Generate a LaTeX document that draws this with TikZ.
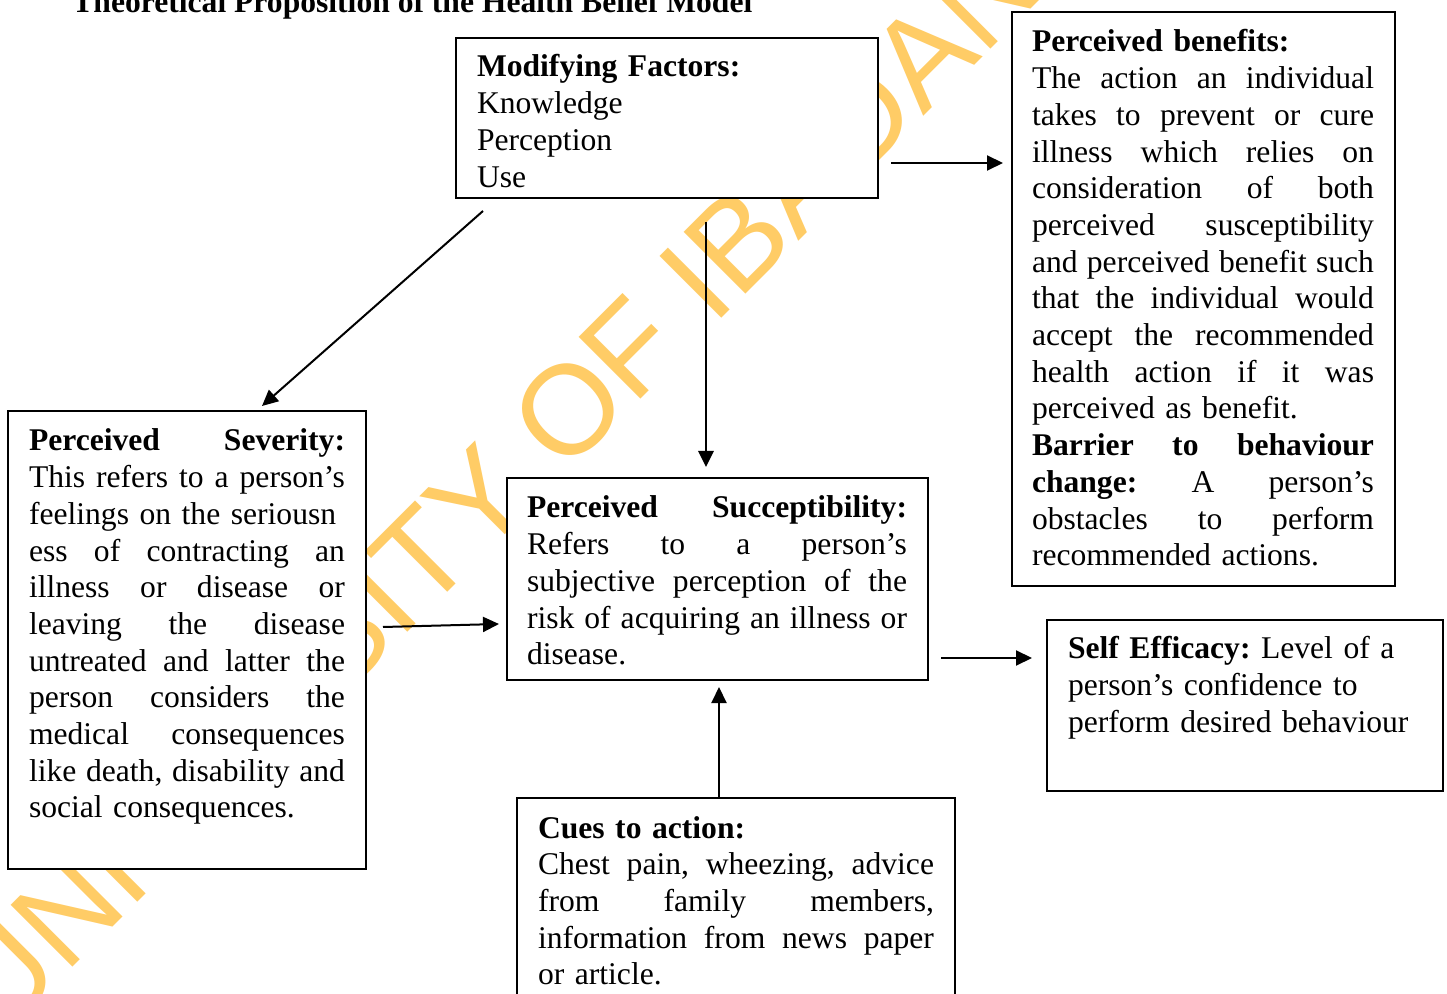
\documentclass[tikz,border=0pt]{standalone}
\usepackage{fontspec}
\setmainfont{Liberation Serif}
\newfontfamily\wmfont{Liberation Sans}
\usetikzlibrary{arrows.meta}
\definecolor{wm}{RGB}{255,204,102}
\setlength{\parindent}{0pt}
\frenchspacing
\newlength\jw
\newcommand\fs{\fontsize{15.8pt}{18.35pt}\selectfont}
\newcommand\J[1]{\leavevmode\hbox to \jw{\spaceskip=0.25em plus 1fil\relax\xspaceskip=0.25em plus 1fil\relax #1}}
\newcommand\R{\rule{0pt}{12pt}}
\begin{document}
\begin{tikzpicture}[x=0.5pt,y=-0.5pt,
  frame/.style={draw, line width=1pt, fill=white, anchor=north west, inner sep=0pt, outer sep=0pt},
  txt/.style={anchor=north west, inner sep=0pt, outer sep=0pt, align=left, font=\fs},
  arr/.style={line width=1pt, -{Triangle[length=8pt,width=7.5pt]}}]
\clip (0,0) rectangle (1447,994);
\fill[white] (0,0) rectangle (1447,994);
% watermark
\node[anchor=base west, inner sep=0pt, rotate=45, text=wm, font=\wmfont\fontsize{63.5pt}{70pt}\selectfont] (wmark) at (0,1040) {UNIVERSITY OF IBADAN};
% title
\node[anchor=base west, inner sep=0pt, font=\fs\bfseries] (title) at (72,13) {Theoretical Proposition of the Health Belief Model};
% frames
\node[frame, minimum width=211pt, minimum height=80pt] (mf) at (456,38) {};
\node[frame, minimum width=191.5pt, minimum height=287pt] (ben) at (1012,12) {};
\node[frame, minimum width=179pt, minimum height=229pt] (sev) at (8,411) {};
\node[frame, minimum width=210.5pt, minimum height=101pt] (sus) at (507,478) {};
\node[frame, minimum width=198pt, minimum height=85.5pt] (se) at (1047,620) {};
\node[frame, minimum width=219pt, minimum height=110pt] (cue) at (517,798) {};
% texts
\node[txt, text width=200pt] (mft) at (477,53) {\R\textbf{Modifying Factors:}\\Knowledge\\Perception\\Use};
\node[txt, text width=171pt] (bent) at (1032,28) {\setlength\jw{171pt}\R\textbf{Perceived benefits:}\\
\J{The action an individual}\\
\J{takes to prevent or cure}\\
\J{illness which relies on}\\
\J{consideration of both}\\
\J{perceived susceptibility}\\
\J{and perceived benefit such}\\
\J{that the individual would}\\
\J{accept the recommended}\\
\J{health action if it was}\\
perceived as benefit.\\
\J{\textbf{Barrier to behaviour}}\\
\J{\textbf{change:} A person’s}\\
\J{obstacles to perform}\\
recommended actions.};
\node[txt, text width=158pt] (sevt) at (29,427) {\setlength\jw{158pt}\R\J{\textbf{Perceived Severity:}}\\
\J{This refers to a person’s}\\
feelings on the seriousn\\
\J{ess of contracting an}\\
\J{illness or disease or}\\
\J{leaving the disease}\\
\J{untreated and latter the}\\
\J{person considers the}\\
\J{medical consequences}\\
\J{like death, disability and}\\
social consequences.};
\node[txt, text width=190pt] (sust) at (527,494) {\setlength\jw{190pt}\R\J{\textbf{Perceived Succeptibility:}}\\
\J{Refers to a person’s}\\
\J{subjective perception of the}\\
\J{risk of acquiring an illness or}\\
disease.};
\node[txt, text width=185pt] (set) at (1068,635) {\R\textbf{Self Efficacy:} Level of a\\
person’s confidence to\\
perform desired behaviour};
\node[txt, text width=198pt] (cuet) at (538,814) {\setlength\jw{198pt}\R\textbf{Cues to action:}\\
\J{Chest pain, wheezing, advice}\\
\J{from family members,}\\
\J{information from news paper}\\
or article.};
% connector ends
\coordinate (a1) at (891,163); \coordinate (b1) at (1003,163);
\coordinate (a2) at (483,211); \coordinate (b2) at (262,406);
\coordinate (a3) at (706,222); \coordinate (b3) at (706,467);
\coordinate (a4) at (383,627); \coordinate (b4) at (499,624);
\coordinate (a5) at (941,658); \coordinate (b5) at (1032,658);
\coordinate (a6) at (719,797); \coordinate (b6) at (719,687);
\draw[arr] (a1) -- (b1);
\draw[arr] (a2) -- (b2);
\draw[arr, line width=1.4pt] (a3) -- (b3);
\draw[arr] (a4) -- (b4);
\draw[arr] (a5) -- (b5);
\draw[arr] (a6) -- (b6);
\end{tikzpicture}
\end{document}
